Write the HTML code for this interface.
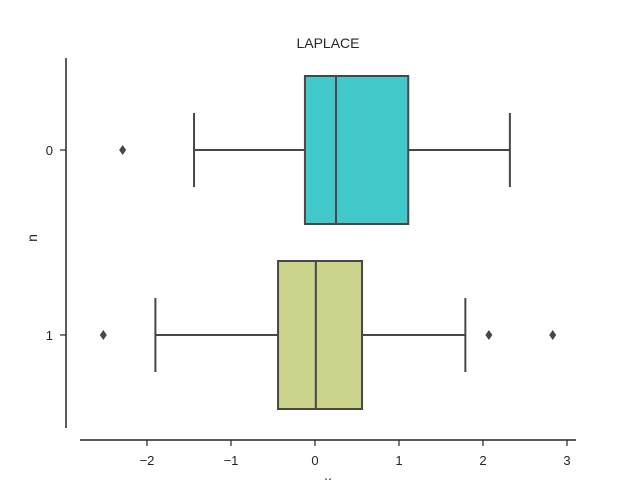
<!DOCTYPE html>
<html><head><meta charset="utf-8"><style>
body{margin:0;background:#fff;}
svg{display:block;font-family:"Liberation Sans",sans-serif;}
</style></head><body>
<svg id="chart" width="640" height="480">
<text x="328" y="48" text-anchor="middle" font-size="14" fill="#262626">LAPLACE</text>
<line x1="66" y1="58" x2="66" y2="428" stroke="#262626" stroke-width="1.5"/>
<line x1="80" y1="440" x2="576" y2="440" stroke="#262626" stroke-width="1.5"/>
<text x="328" y="486" text-anchor="middle" font-size="14" fill="#262626">x</text>
<text transform="translate(37,238) rotate(-90)" text-anchor="middle" font-size="14" fill="#262626">n</text>
<g id="marks"></g>
</svg>
<script>
const categories = ["0","1"];
const whiskerLow = [-1.44, -1.90];
const q1 = [-0.12, -0.44];
const median = [0.25, 0.01];
const q3 = [1.11, 0.56];
const whiskerHigh = [2.32, 1.79];
const outliers = [[-2.29], [-2.52, 2.07, 2.83]];
const xTicks = [-2, -1, 0, 1, 2, 3];
const colors = ["#41c8c8", "#ccd38a"];

const NS = "http://www.w3.org/2000/svg";
const xs = v => 315 + v * 84;
const ys = i => 150 + i * 185;
const halfH = 74;
const svg = document.getElementById("chart");
const g = document.getElementById("marks");
function mk(tag, attrs, parent) {
  const e = document.createElementNS(NS, tag);
  for (const k in attrs) e.setAttribute(k, attrs[k]);
  (parent || g).appendChild(e);
  return e;
}
xTicks.forEach(t => {
  const l = mk("line", {x1: xs(t), x2: xs(t), y1: 440, y2: 446, stroke: "#262626", "stroke-width": 1.2});
  
  
  const tx = mk("text", {x: xs(t), y: 465, "text-anchor": "middle", "font-size": 13, fill: "#262626"});
  tx.textContent = t < 0 ? "\u2212" + Math.abs(t) : String(t);
  
  
});
categories.forEach((c, i) => {
  const y = ys(i);
  const l = mk("line", {x1: 60, x2: 66, y1: y, y2: y, stroke: "#262626", "stroke-width": 1.2});
  
  
  const tx = mk("text", {x: 53, y: y + 5, "text-anchor": "end", "font-size": 13, fill: "#262626"});
  tx.textContent = c;
  
  
  const st = {stroke: "#474747", "stroke-width": 2};
  const w1 = mk("line", Object.assign({x1: xs(whiskerLow[i]), x2: xs(q1[i]), y1: y, y2: y}, st));
  
  
  const w2 = mk("line", Object.assign({x1: xs(q3[i]), x2: xs(whiskerHigh[i]), y1: y, y2: y}, st));
  
  
  const c1 = mk("line", Object.assign({x1: xs(whiskerLow[i]), x2: xs(whiskerLow[i]), y1: y - 37, y2: y + 37}, st));
  
  
  const c2 = mk("line", Object.assign({x1: xs(whiskerHigh[i]), x2: xs(whiskerHigh[i]), y1: y - 37, y2: y + 37}, st));
  
  
  const b = mk("rect", Object.assign({x: xs(q1[i]), y: y - halfH, width: xs(q3[i]) - xs(q1[i]), height: 2 * halfH, fill: colors[i]}, st));
  
  
  const m = mk("line", Object.assign({x1: xs(median[i]), x2: xs(median[i]), y1: y - halfH, y2: y + halfH}, st));
  
  
  outliers[i].forEach(o => {
    const x = xs(o);
    const p = mk("polygon", {points: `${x},${y-5} ${x+3.5},${y} ${x},${y+5} ${x-3.5},${y}`, fill: "#474747"});
    
    
  });
});
</script>
</body></html>
